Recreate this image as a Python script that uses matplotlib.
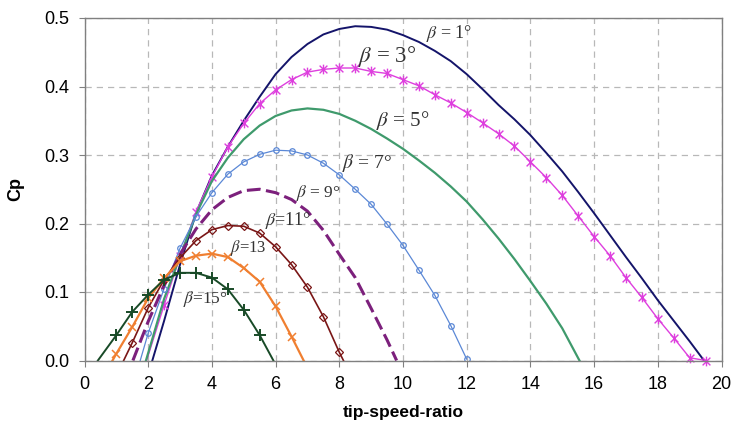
import matplotlib
matplotlib.use("Agg")
import matplotlib.pyplot as plt
from matplotlib.path import Path
import numpy as np

plt.rcParams['mathtext.fontset'] = 'stix'

"""
Cp curves read off the picture, one pair of lists per pitch angle
"""

tsr_b1 = [2.13, 2.5, 3.0, 3.5, 4.0, 4.5, 5.0, 5.5, 6.0, 6.5, 7.0, 7.5, 8.0, 8.5, 9.0,
          9.5, 10.0, 10.5, 11.0, 11.5, 12.0, 12.5, 13.0, 13.5, 14.0, 14.5, 15.0,
          15.5, 16.0, 16.5, 17.0, 17.5, 18.0, 18.5, 19.0, 19.45]
cp_b1 = [0.0, 0.058, 0.14, 0.215, 0.27, 0.312, 0.35, 0.385, 0.418, 0.443, 0.462, 0.476,
         0.484, 0.488, 0.487, 0.483, 0.475, 0.465, 0.452, 0.437, 0.418, 0.396, 0.373,
         0.352, 0.329, 0.303, 0.276, 0.246, 0.215, 0.183, 0.151, 0.12, 0.088, 0.058,
         0.028, 0.0]

tsr_b3 = [1.95, 2.5, 3.0, 3.5, 4.0, 4.5, 5.0, 5.5, 6.0, 6.5, 7.0, 7.5, 8.0, 8.5, 9.0,
          9.5, 10.0, 10.5, 11.0, 11.5, 12.0, 12.5, 13.0, 13.5, 14.0, 14.5, 15.0,
          15.5, 16.0, 16.5, 17.0, 17.5, 18.0, 18.5, 19.0, 19.5]
cp_b3 = [0.0, 0.081, 0.152, 0.217, 0.268, 0.312, 0.346, 0.375, 0.395, 0.41, 0.421,
         0.425, 0.427, 0.427, 0.422, 0.419, 0.41, 0.401, 0.388, 0.376, 0.362, 0.347,
         0.331, 0.313, 0.29, 0.267, 0.241, 0.211, 0.181, 0.153, 0.121, 0.092, 0.061,
         0.033, 0.004, 0.0]

tsr_b5 = [1.93, 2.5, 3.0, 3.5, 4.0, 4.5, 5.0, 5.5, 6.0, 6.5, 7.0, 7.5, 8.0, 8.5, 9.0,
          9.5, 10.0, 10.5, 11.0, 11.5, 12.0, 12.5, 13.0, 13.5, 14.0, 14.5, 15.0, 15.54]
cp_b5 = [0.0, 0.09, 0.152, 0.213, 0.262, 0.296, 0.323, 0.343, 0.357, 0.365, 0.368,
         0.366, 0.36, 0.35, 0.338, 0.324, 0.309, 0.292, 0.274, 0.254, 0.232, 0.206,
         0.178, 0.148, 0.116, 0.083, 0.047, 0.0]

tsr_b7 = [1.75, 2.0, 2.5, 3.0, 3.5, 4.0, 4.5, 5.0, 5.5, 6.0, 6.5, 7.0, 7.5, 8.0, 8.5,
          9.0, 9.5, 10.0, 10.5, 11.0, 11.5, 12.0]
cp_b7 = [0.0, 0.04, 0.105, 0.164, 0.21, 0.245, 0.272, 0.29, 0.301, 0.307, 0.306, 0.3,
         0.288, 0.271, 0.25, 0.228, 0.199, 0.168, 0.132, 0.095, 0.051, 0.002]

tsr_b9 = [1.52, 2.0, 2.5, 3.0, 3.5, 4.0, 4.5, 5.0, 5.5, 6.0, 6.5, 7.0, 7.5, 8.0, 8.5,
          9.0, 9.5, 9.8]
cp_b9 = [0.0, 0.057, 0.11, 0.155, 0.192, 0.22, 0.238, 0.248, 0.25, 0.245, 0.235, 0.218,
         0.19, 0.155, 0.121, 0.076, 0.03, 0.0]

tsr_b11 = [1.23, 1.5, 2.0, 2.5, 3.0, 3.5, 4.0, 4.5, 5.0, 5.5, 6.0, 6.5, 7.0, 7.5, 8.0, 8.13]
cp_b11 = [0.0, 0.026, 0.077, 0.118, 0.15, 0.175, 0.191, 0.197, 0.196, 0.186, 0.166,
          0.14, 0.107, 0.064, 0.012, 0.0]

tsr_b13 = [0.88, 1.0, 1.5, 2.0, 2.5, 3.0, 3.5, 4.0, 4.5, 5.0, 5.5, 6.0, 6.5, 6.88]
cp_b13 = [0.0, 0.01, 0.049, 0.091, 0.12, 0.145, 0.153, 0.156, 0.151, 0.135, 0.115,
          0.079, 0.035, 0.0]

tsr_b15 = [0.42, 1.0, 1.5, 2.0, 2.5, 3.0, 3.5, 4.0, 4.5, 5.0, 5.5, 5.93]
cp_b15 = [0.0, 0.037, 0.071, 0.096, 0.118, 0.128, 0.128, 0.121, 0.104, 0.074, 0.037, 0.0]

labels = [r"$\beta$ = 1°", r"$\beta$ = 3°", r"$\beta$ = 5°", r"$\beta$ = 7°",
          r"$\beta$ = 9°", r"$\beta$=11°", r"$\beta$=13", r"$\beta$=15°"]
label_x = [11.44, 9.5, 10.0, 8.87, 7.33, 6.39, 5.13, 3.81]
label_y = [0.478, 0.444, 0.351, 0.288, 0.245, 0.204, 0.164, 0.09]
label_size = [13, 16.5, 15, 14, 12.5, 13, 12, 12.5]

x_ticks = [0, 2, 4, 6, 8, 10, 12, 14, 16, 18, 20]
y_ticks = [0.0, 0.1, 0.2, 0.3, 0.4, 0.5]

# excel style asterisk: an x with a vertical bar
star = Path([(-1, -1), (1, 1), (-1, 1), (1, -1), (0, -1.25), (0, 1.25)],
            [Path.MOVETO, Path.LINETO] * 3)

fig = plt.figure(figsize=(7.33, 4.29), dpi=100)
ax = fig.add_axes([84.5 / 733, 1 - 360.5 / 429, 637 / 733, 342.5 / 429])

ax.plot(tsr_b1, cp_b1, color="#14146a", lw=1.4)
ax.plot(tsr_b3, cp_b3, color="#de3fde", lw=1.0, marker=star, ms=7, mew=1.0,
        markevery=slice(1, None), clip_on=False)
ax.plot(tsr_b5, cp_b5, color="#3f9a6c", lw=1.6)
ax.plot(tsr_b7, cp_b7, color="#5b88d6", lw=0.9, marker="o", ms=4, mfc="none",
        mew=0.9, markevery=slice(1, None))
ax.plot(tsr_b9, cp_b9, color="#7c207c", lw=2.2, dashes=(4.5, 1.8))
ax.plot(tsr_b11, cp_b11, color="#7a1616", lw=1.2, marker="D", ms=4.5, mfc="none",
        mew=0.9, markevery=slice(1, -1))
ax.plot(tsr_b13, cp_b13, color="#f07f30", lw=1.6, marker="x", ms=6, mew=1.1,
        markevery=slice(1, -1))
ax.plot(tsr_b15, cp_b15, color="#184a27", lw=1.4, marker="+", ms=8, mew=1.4,
        markevery=slice(1, -1))

for txt, lx, ly, fs in zip(labels, label_x, label_y, label_size):
    ax.text(lx, ly, txt, ha="center", va="center", fontsize=fs,
            family="Liberation Serif", color="#333333")

ax.set_xlim(0, 20)
ax.set_ylim(0, 0.5)
ax.set_xticks(x_ticks)
ax.set_yticks(y_ticks)
ax.set_yticklabels(["%.1f" % v for v in y_ticks])

ax.grid(True, color="#b8b8b8", linestyle=(0, (5, 4)), linewidth=0.9)
ax.set_axisbelow(True)
for s in ax.spines.values():
    s.set_color("#808080")
    s.set_linewidth(1.0)

ax.tick_params(axis="both", direction="out", length=4, color="#808080",
               labelsize=13, pad=7)
for lab in ax.get_xticklabels() + ax.get_yticklabels():
    lab.set_family("Liberation Sans")

ax.set_xlabel("tip-speed-ratio", fontsize=12.5, fontweight="bold",
              family="Liberation Sans", labelpad=9)
ax.set_ylabel("Cp", fontsize=13, fontweight="bold", family="Liberation Sans",
              labelpad=14)

plt.savefig("out.png", dpi=100)
